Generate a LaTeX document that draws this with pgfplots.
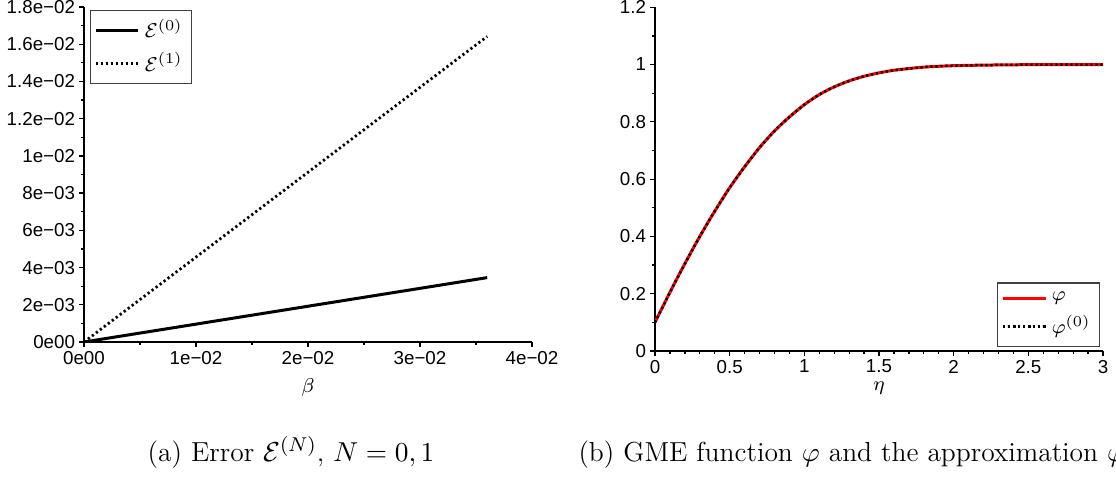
\documentclass[border=0pt]{standalone}
\usepackage{fontspec}
\usepackage{amsmath}
\usepackage{pgfplots}
\pgfplotsset{compat=1.18}
\newfontfamily\arial{Liberation Sans}

% 1 px of the reference = 0.4pt
\pgfplotsset{
  maplestyle/.style={
    scale only axis,
    width=179.2pt,
    axis lines=left,
    axis line style={-, line width=0.6pt},
    tick align=outside,
    tick style={black, line width=0.5pt},
    major tick length=1.9pt,
    minor tick length=1.1pt,
    enlargelimits=false,
    ticklabel style={font=\arial\fontsize{7.5}{9}\selectfont},
    xticklabel style={inner sep=1.5pt},
    yticklabel style={inner sep=1.5pt},
    label style={font=\fontsize{8.5}{10}\selectfont},
    legend cell align=left,
    legend style={draw=black!75, line width=0.5pt, font=\fontsize{8}{9}\selectfont,
      inner sep=1.5pt, row sep=0.5pt, fill=white},
  },
  dotline/.style={black, line width=1.1pt, dash pattern=on 0.9pt off 1.1pt},
}

\begin{document}
\begin{tikzpicture}
\useasboundingbox (0,0) rectangle (446.4pt,-195.6pt);
\clip (0,0) rectangle (446.4pt,-195.6pt);

% (a) error curves
\begin{axis}[
  maplestyle,
  at={(33.6pt,-136.8pt)}, anchor=south west,
  height=134pt,
  xmin=0, xmax=0.04, ymin=0, ymax=0.018,
  xtick={0,0.01,0.02,0.03,0.04},
  xticklabels={0e00,1e−02,2e−02,3e−02,4e−02},
  ytick={0,0.002,0.004,0.006,0.008,0.01,0.012,0.014,0.016,0.018},
  yticklabels={0e00,2e−03,4e−03,6e−03,8e−03,1e−02,1.2e−02,1.4e−02,1.6e−02,1.8e−02},
  minor x tick num=1, minor y tick num=1,
  scaled ticks=false,
  xlabel={$\beta$},
  xlabel style={at={(axis description cs:0.5,-0.137)}, anchor=center},
  legend style={at={(0.013,0.991)}, anchor=north west},
]
\addplot[black, line width=1.2pt] coordinates {
  (0,0) (0.009,0.000865) (0.018,0.00173) (0.027,0.002595) (0.036,0.00346)
};
\addlegendentry{$\mathcal{E}^{(0)}$}
\addplot[dotline] coordinates {
  (0,0) (0.009,0.004105) (0.018,0.00821) (0.027,0.012315) (0.036,0.01642)
};
\addlegendentry{$\mathcal{E}^{(1)}$}
\end{axis}

% (b) GME function and its approximation
\begin{axis}[
  maplestyle,
  at={(262pt,-140.4pt)}, anchor=south west,
  height=137.5pt,
  xmin=0, xmax=3, ymin=0, ymax=1.2,
  xtick={0,0.5,1,1.5,2,2.5,3},
  xticklabels={0,0.5,1,1.5,2,2.5,3},
  ytick={0,0.2,0.4,0.6,0.8,1,1.2},
  yticklabels={0,0.2,0.4,0.6,0.8,1,1.2},
  minor x tick num=4, minor y tick num=1,
  xlabel={$\eta$},
  xlabel style={at={(axis description cs:0.5,-0.108)}, anchor=center},
  legend style={at={(0.993,0.012)}, anchor=south east},
]
\addplot[red, line width=1.2pt, smooth] table {
x y
0 0.100
0.1 0.205
0.2 0.305
0.3 0.400
0.4 0.488
0.5 0.570
0.6 0.643
0.7 0.710
0.8 0.768
0.9 0.817
1.0 0.860
1.1 0.895
1.2 0.922
1.3 0.943
1.4 0.959
1.5 0.971
1.6 0.980
1.7 0.986
1.8 0.991
1.9 0.994
2.0 0.996
2.2 0.998
2.5 0.9995
3.0 1.000
};
\addlegendentry{$\varphi$}
\addplot[dotline, line width=1pt, smooth] table {
x y
0 0.100
0.1 0.205
0.2 0.305
0.3 0.400
0.4 0.488
0.5 0.570
0.6 0.643
0.7 0.710
0.8 0.768
0.9 0.817
1.0 0.860
1.1 0.895
1.2 0.922
1.3 0.943
1.4 0.959
1.5 0.971
1.6 0.980
1.7 0.986
1.8 0.991
1.9 0.994
2.0 0.996
2.2 0.998
2.5 0.9995
3.0 1.000
};
\addlegendentry{$\varphi^{(0)}$}
\end{axis}

% sub-captions
\node[anchor=base, inner sep=0pt, font=\fontsize{11}{13}\selectfont]
  at (116.4pt,-184.4pt) {(a) Error $\mathcal{E}^{(N)}$, $N=0,1$};
\node[anchor=base west, inner sep=0pt, font=\fontsize{11}{13}\selectfont]
  at (231.2pt,-184.4pt) {(b) GME function $\varphi$ and the approximation $\varphi^{(0)}$};
\end{tikzpicture}
\end{document}
